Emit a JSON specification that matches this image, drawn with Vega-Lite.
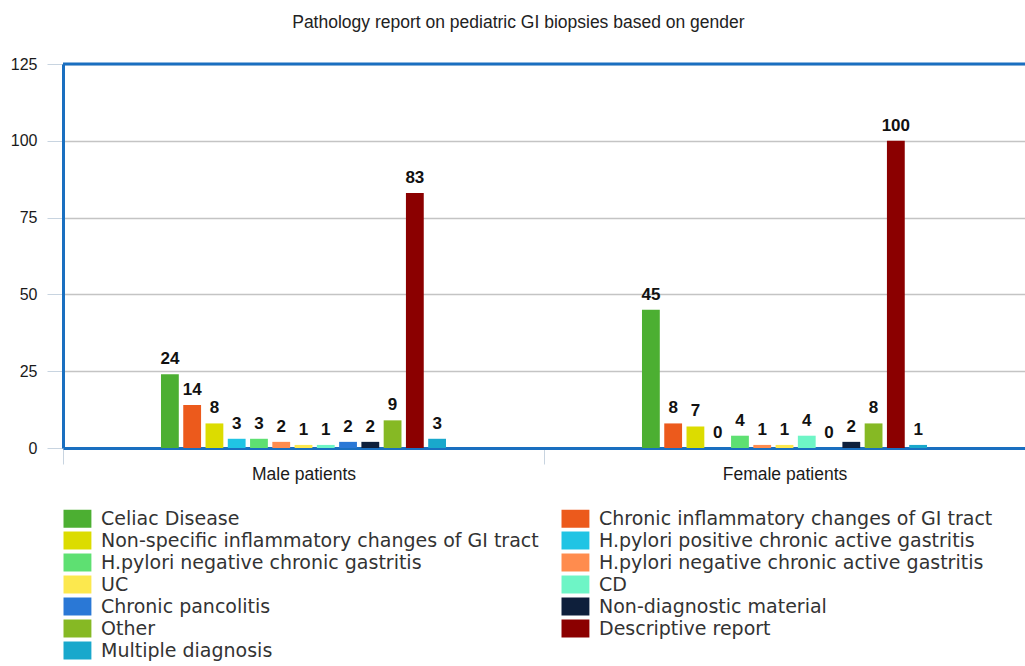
{
  "$schema": "https://vega.github.io/schema/vega-lite/v6.json",
  "width": 962,
  "height": 384,
  "padding": {"left": 10, "top": 13, "right": 0, "bottom": 0},
  "background": "white",
  "title": {"text": "Pathology report on pediatric GI biopsies based on gender", "fontSize": 17.5, "font": "Liberation Sans", "fontWeight": "normal", "color": "#222222", "frame": "bounds", "anchor": "middle", "offset": 25},
  "config": {"view": {"stroke": null}, "font": "Liberation Sans"},
  "data": {"values": [
    {"gender": "Male patients", "diagnosis": "Celiac Disease", "count": 24},
    {"gender": "Male patients", "diagnosis": "Chronic inflammatory changes of GI tract", "count": 14},
    {"gender": "Male patients", "diagnosis": "Non-specific inflammatory changes of GI tract", "count": 8},
    {"gender": "Male patients", "diagnosis": "H.pylori positive chronic active gastritis", "count": 3},
    {"gender": "Male patients", "diagnosis": "H.pylori negative chronic gastritis", "count": 3},
    {"gender": "Male patients", "diagnosis": "H.pylori negative chronic active gastritis", "count": 2},
    {"gender": "Male patients", "diagnosis": "UC", "count": 1},
    {"gender": "Male patients", "diagnosis": "CD", "count": 1},
    {"gender": "Male patients", "diagnosis": "Chronic pancolitis", "count": 2},
    {"gender": "Male patients", "diagnosis": "Non-diagnostic material", "count": 2},
    {"gender": "Male patients", "diagnosis": "Other", "count": 9},
    {"gender": "Male patients", "diagnosis": "Descriptive report", "count": 83},
    {"gender": "Male patients", "diagnosis": "Multiple diagnosis", "count": 3},
    {"gender": "Female patients", "diagnosis": "Celiac Disease", "count": 45},
    {"gender": "Female patients", "diagnosis": "Chronic inflammatory changes of GI tract", "count": 8},
    {"gender": "Female patients", "diagnosis": "Non-specific inflammatory changes of GI tract", "count": 7},
    {"gender": "Female patients", "diagnosis": "H.pylori positive chronic active gastritis", "count": 0},
    {"gender": "Female patients", "diagnosis": "H.pylori negative chronic gastritis", "count": 4},
    {"gender": "Female patients", "diagnosis": "H.pylori negative chronic active gastritis", "count": 1},
    {"gender": "Female patients", "diagnosis": "UC", "count": 1},
    {"gender": "Female patients", "diagnosis": "CD", "count": 4},
    {"gender": "Female patients", "diagnosis": "Chronic pancolitis", "count": 0},
    {"gender": "Female patients", "diagnosis": "Non-diagnostic material", "count": 2},
    {"gender": "Female patients", "diagnosis": "Other", "count": 8},
    {"gender": "Female patients", "diagnosis": "Descriptive report", "count": 100},
    {"gender": "Female patients", "diagnosis": "Multiple diagnosis", "count": 1}
  ]},
  "layer": [
    {
      "mark": {"type": "bar"},
      "encoding": {
        "x": {"field": "gender", "type": "nominal", "sort": ["Male patients", "Female patients"], "scale": {"paddingInner": 0, "paddingOuter": 0},
          "axis": {"title": null, "labelAngle": 0, "tickBand": "extent", "domainColor": "#1a6fc0", "domainWidth": 3, "tickColor": "#c8d4e0", "tickSize": 16, "labelPadding": 1, "labelFontSize": 17.5, "labelColor": "#1a1a1a", "grid": false}},
        "xOffset": {"field": "diagnosis", "type": "nominal", "scale": {"domain": ["pad1", "pad2", "pad3", "pad4", "Celiac Disease", "Chronic inflammatory changes of GI tract", "Non-specific inflammatory changes of GI tract", "H.pylori positive chronic active gastritis", "H.pylori negative chronic gastritis", "H.pylori negative chronic active gastritis", "UC", "CD", "Chronic pancolitis", "Non-diagnostic material", "Other", "Descriptive report", "Multiple diagnosis", "pad5", "pad6", "pad7", "pad8"], "paddingInner": 0.2, "paddingOuter": 0.4}},
        "y": {"field": "count", "type": "quantitative", "scale": {"domain": [0, 125], "nice": false},
          "axis": {"title": null, "values": [0, 25, 50, 75, 100, 125], "domainColor": "#1a6fc0", "domainWidth": 3, "tickColor": "#c8d4e0", "tickSize": 16, "labelPadding": 10, "labelFontSize": 16, "labelColor": "#1a1a1a", "gridColor": "#c4c4c4", "gridWidth": 1.5}},
        "color": {"field": "diagnosis", "type": "nominal",
          "scale": {"domain": ["Celiac Disease", "Chronic inflammatory changes of GI tract", "Non-specific inflammatory changes of GI tract", "H.pylori positive chronic active gastritis", "H.pylori negative chronic gastritis", "H.pylori negative chronic active gastritis", "UC", "CD", "Chronic pancolitis", "Non-diagnostic material", "Other", "Descriptive report", "Multiple diagnosis"],
            "range": ["#4caf32", "#ec5a1c", "#dcdc00", "#20c4e4", "#5ee072", "#ff8c4e", "#fce84e", "#6ef5c6", "#2a78d6", "#0e1f3b", "#86b924", "#8b0000", "#19a8cc"]},
          "legend": {"title": null, "orient": "bottom", "direction": "horizontal", "columns": 2, "offset": 26, "labelFont": "DejaVu Sans", "labelFontSize": 19, "labelColor": "#333333", "labelLimit": 700, "symbolType": "M-1,-1H2.1V1H-1Z", "symbolSize": 324, "symbolStrokeWidth": 0, "symbolOpacity": 1, "labelOffset": 19, "columnPadding": 22, "rowPadding": 2}}
      }
    },
    {
      "mark": {"type": "text", "dy": -15, "fontWeight": "bold", "fontSize": 17, "color": "#111111", "font": "Liberation Sans"},
      "encoding": {
        "x": {"field": "gender", "type": "nominal", "sort": ["Male patients", "Female patients"]},
        "xOffset": {"field": "diagnosis", "type": "nominal"},
        "y": {"field": "count", "type": "quantitative"},
        "text": {"field": "count", "type": "quantitative"}
      }
    },
    {
      "data": {"values": [{}]},
      "mark": {"type": "rule", "color": "#1a6fc0", "strokeWidth": 3},
      "encoding": {"y": {"datum": 125}}
    }
  ]
}
